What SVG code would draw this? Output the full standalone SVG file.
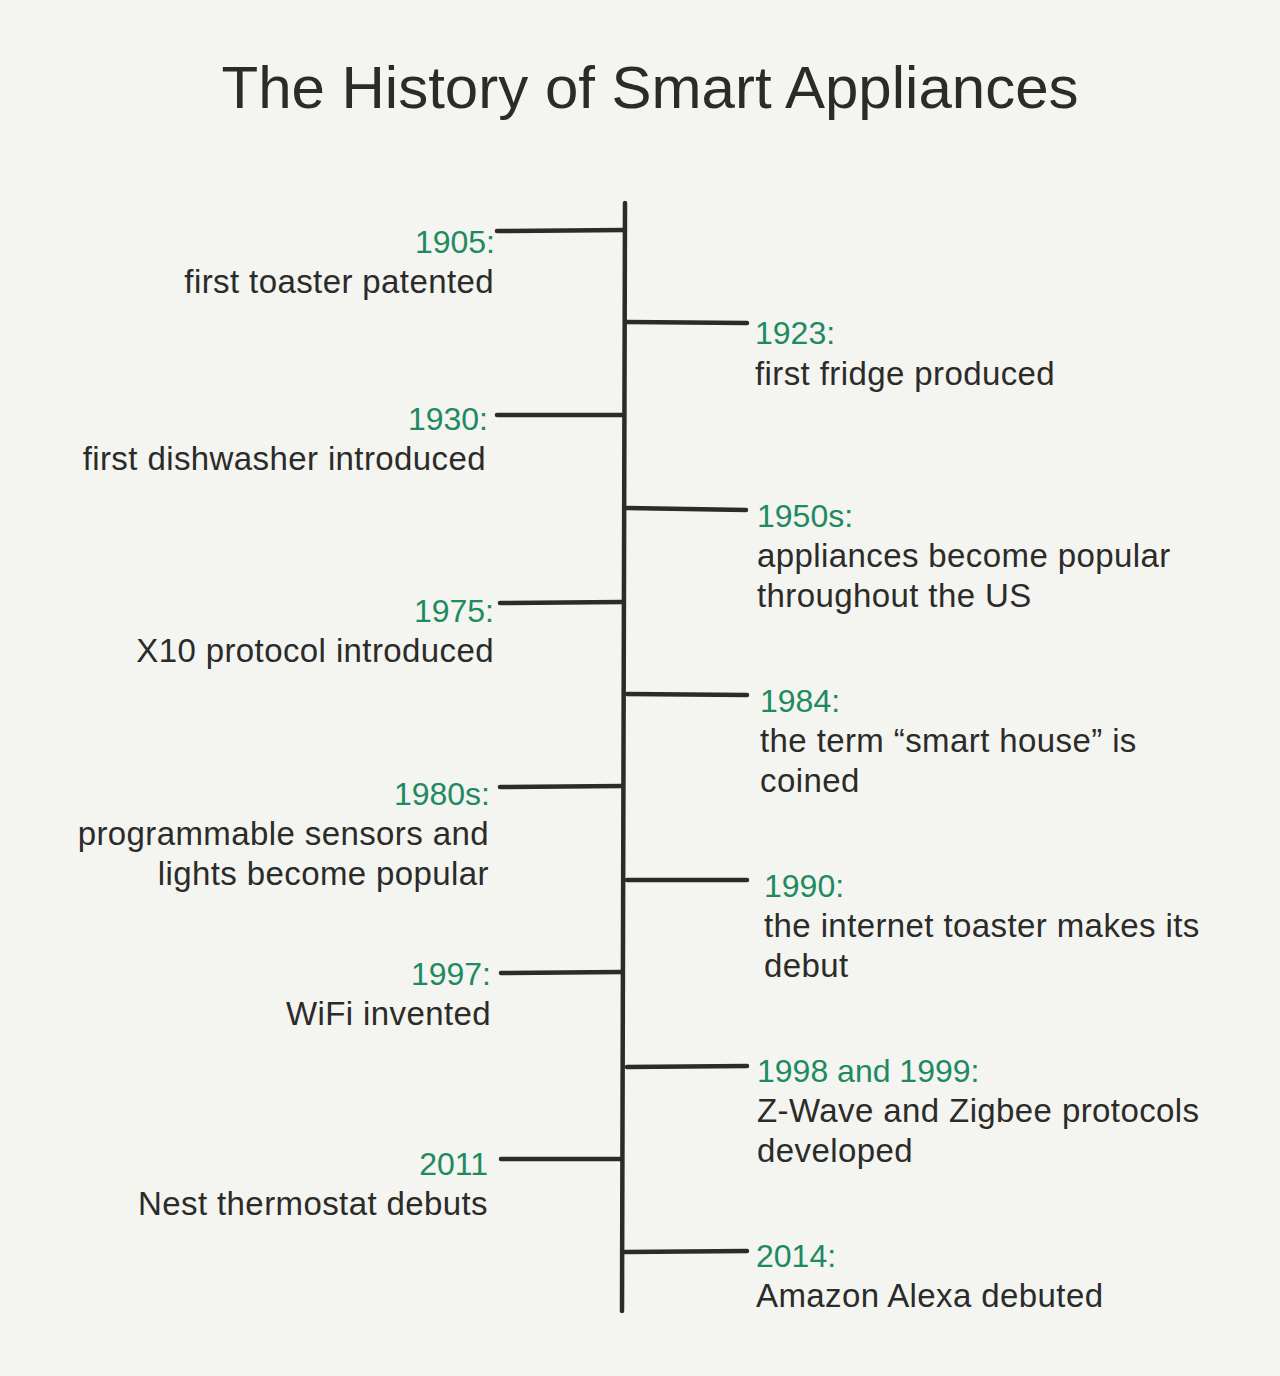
<svg xmlns="http://www.w3.org/2000/svg" width="1280" height="1376" viewBox="0 0 1280 1376">
<style>
.t{font-family:"Liberation Sans",Arial,sans-serif;font-size:33px;letter-spacing:0.4px;fill:#2b2b29}
.y{font-family:"Liberation Sans",Arial,sans-serif;font-size:32px;fill:#1e8a5f}
.l{text-anchor:end}
.ln{stroke:#2b2b29;stroke-width:4.5;stroke-linecap:round;fill:none}
</style>
<rect width="1280" height="1376" fill="#f4f4f0"/>
<text x="650" y="108" text-anchor="middle" font-family="Liberation Sans,Arial,sans-serif" font-size="60" fill="#2b2b29">The History of Smart Appliances</text>
<g id="connectors">
<path class="ln" d="M625 203 L622 1311" stroke-width="5.5"/>
<path class="ln" d="M497 231 L625 230"/>
<path class="ln" d="M627 322 L747 323"/>
<path class="ln" d="M497 415 L623 415"/>
<path class="ln" d="M627 508 L746 510"/>
<path class="ln" d="M500 603 L622 602"/>
<path class="ln" d="M627 694 L747 695"/>
<path class="ln" d="M500 787 L621 786"/>
<path class="ln" d="M627 880 L747 880"/>
<path class="ln" d="M501 973 L621 972"/>
<path class="ln" d="M627 1067 L747 1066"/>
<path class="ln" d="M501 1159 L621 1159"/>
<path class="ln" d="M625 1252 L747 1251"/>
</g>
<g id="n1905"><text class="y l" x="495" y="253">1905:</text><text class="t l" x="494" y="293">first toaster patented</text></g>
<g id="n1923"><text class="y" x="755" y="344">1923:</text><text class="t" x="755" y="385">first fridge produced</text></g>
<g id="n1930"><text class="y l" x="488" y="430">1930:</text><text class="t l" x="486" y="470">first dishwasher introduced</text></g>
<g id="n1950s"><text class="y" x="757" y="527">1950s:</text><text class="t" x="757" y="567">appliances become popular</text><text class="t" x="757" y="607">throughout the US</text></g>
<g id="n1975"><text class="y l" x="494" y="622">1975:</text><text class="t l" x="494" y="662">X10 protocol introduced</text></g>
<g id="n1984"><text class="y" x="760" y="712">1984:</text><text class="t" x="760" y="752">the term “smart house” is</text><text class="t" x="760" y="792">coined</text></g>
<g id="n1980s"><text class="y l" x="490" y="805">1980s:</text><text class="t l" x="489" y="845">programmable sensors and</text><text class="t l" x="489" y="885">lights become popular</text></g>
<g id="n1990"><text class="y" x="764" y="897">1990:</text><text class="t" x="764" y="937">the internet toaster makes its</text><text class="t" x="764" y="977">debut</text></g>
<g id="n1997"><text class="y l" x="491" y="985">1997:</text><text class="t l" x="491" y="1025">WiFi invented</text></g>
<g id="n1998"><text class="y" x="757" y="1082">1998 and 1999:</text><text class="t" x="757" y="1122">Z-Wave and Zigbee protocols</text><text class="t" x="757" y="1162">developed</text></g>
<g id="n2011"><text class="y l" x="488" y="1175">2011</text><text class="t l" x="488" y="1215">Nest thermostat debuts</text></g>
<g id="n2014"><text class="y" x="756" y="1267">2014:</text><text class="t" x="756" y="1307">Amazon Alexa debuted</text></g>
</svg>
